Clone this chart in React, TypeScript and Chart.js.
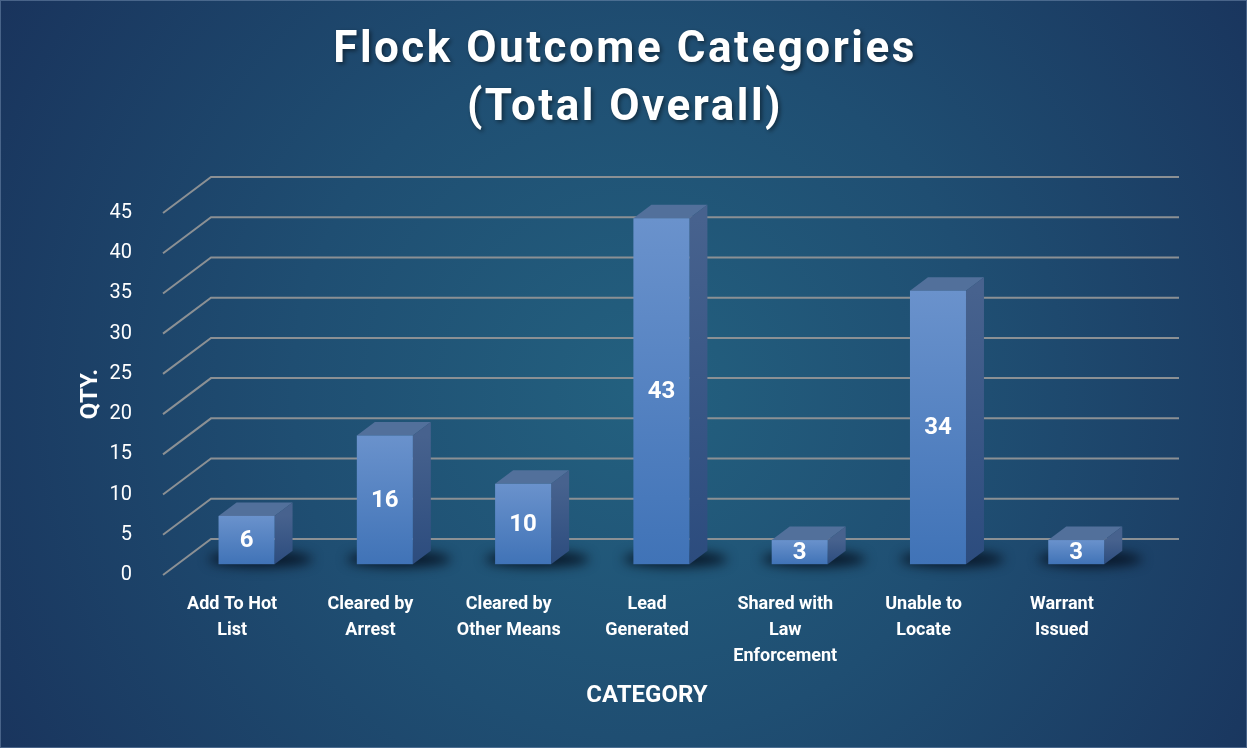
import React, { useEffect, useRef } from "react";
import { Chart, registerables } from "chart.js";

Chart.register(...registerables);

const categories: string[][] = [
  ["Add To Hot", "List"],
  ["Cleared by", "Arrest"],
  ["Cleared by", "Other Means"],
  ["Lead", "Generated"],
  ["Shared with", "Law", "Enforcement"],
  ["Unable to", "Locate"],
  ["Warrant", "Issued"],
];
const quantities: number[] = [6, 16, 10, 43, 3, 34, 3];
const titleLines: string[] = ["Flock Outcome Categories", "(Total Overall)"];
const yMax = 45;
const yStep = 5;

const FONT = "Roboto, 'Liberation Sans', sans-serif";
const DEPTH_X = 48;
const DEPTH_Y = -36;
const BAR_OFF = 0.3;
const BAR_DEPTH = 0.375;

const backgroundPlugin = {
  id: "bgPlugin",
  beforeDraw(chart: any) {
    const { ctx, width, height } = chart;
    ctx.save();
    const g = ctx.createRadialGradient(640, 390, 10, 640, 390, 760);
    g.addColorStop(0, "#23607f");
    g.addColorStop(0.45, "#1f4e72");
    g.addColorStop(1, "#19335c");
    ctx.fillStyle = g;
    ctx.fillRect(0, 0, width, height);
    ctx.strokeStyle = "rgba(120,145,180,0.5)";
    ctx.lineWidth = 1;
    ctx.strokeRect(0.5, 0.5, width - 1, height - 1);
    // title
    ctx.fillStyle = "#ffffff";
    ctx.textAlign = "center";
    ctx.textBaseline = "middle";
    ctx.font = `bold 44px ${FONT}`;
    (ctx as any).letterSpacing = "2.5px";
    ctx.shadowColor = "rgba(0,0,0,0.45)";
    ctx.shadowBlur = 4;
    ctx.shadowOffsetX = 2;
    ctx.shadowOffsetY = 2;
    titleLines.forEach((t, i) => ctx.fillText(t, 625, 51 + i * 58));
    ctx.restore();
  },
  beforeDatasetsDraw(chart: any) {
    const { ctx, chartArea } = chart;
    const ys = chart.scales.y;
    ctx.save();
    ctx.strokeStyle = "#8b9094";
    ctx.lineWidth = 2;
    ys.ticks.forEach((t: any) => {
      const y = ys.getPixelForValue(t.value);
      ctx.beginPath();
      ctx.moveTo(chartArea.left, y);
      ctx.lineTo(chartArea.left + DEPTH_X, y + DEPTH_Y);
      ctx.lineTo(chartArea.right + DEPTH_X, y + DEPTH_Y);
      ctx.stroke();
    });
    ctx.restore();
  },
  afterDatasetsDraw(chart: any) {
    const { ctx } = chart;
    const meta = chart.getDatasetMeta(0);
    const ox = DEPTH_X * BAR_OFF;
    const oy = DEPTH_Y * BAR_OFF;
    const dx = DEPTH_X * BAR_DEPTH;
    const dy = DEPTH_Y * BAR_DEPTH;
    const rects = meta.data.map((el: any) => {
      const p = el.getProps(["x", "y", "base", "width"], true);
      return {
        x0: p.x - p.width / 2 + ox,
        x1: p.x + p.width / 2 + ox,
        top: p.y + oy,
        bot: p.base + oy,
      };
    });
    // shadows
    ctx.save();
    ctx.filter = "blur(6px)";
    ctx.fillStyle = "rgba(5,14,28,0.85)";
    rects.forEach((r: any) => {
      ctx.beginPath();
      ctx.ellipse((r.x0 + r.x1) / 2 + 14, r.bot - 5, (r.x1 - r.x0) / 2 + 24, 8, 0, 0, Math.PI * 2);
      ctx.fill();
    });
    ctx.restore();
    ctx.save();
    rects.forEach((r: any, i: number) => {
      // top face
      ctx.fillStyle = "#52709b";
      ctx.beginPath();
      ctx.moveTo(r.x0, r.top);
      ctx.lineTo(r.x0 + dx, r.top + dy);
      ctx.lineTo(r.x1 + dx, r.top + dy);
      ctx.lineTo(r.x1, r.top);
      ctx.closePath();
      ctx.fill();
      // side face
      const sg = ctx.createLinearGradient(0, r.top, 0, r.bot);
      sg.addColorStop(0, "#47628e");
      sg.addColorStop(1, "#2c4c7e");
      ctx.fillStyle = sg;
      ctx.beginPath();
      ctx.moveTo(r.x1, r.top);
      ctx.lineTo(r.x1 + dx, r.top + dy);
      ctx.lineTo(r.x1 + dx, r.bot + dy);
      ctx.lineTo(r.x1, r.bot);
      ctx.closePath();
      ctx.fill();
      // front face
      const fg = ctx.createLinearGradient(0, r.top, 0, r.bot);
      fg.addColorStop(0, "#6a92cc");
      fg.addColorStop(1, "#4073b7");
      ctx.fillStyle = fg;
      ctx.fillRect(r.x0, r.top, r.x1 - r.x0, r.bot - r.top);
      // label
      ctx.fillStyle = "#ffffff";
      ctx.font = `bold 24px ${FONT}`;
      ctx.textAlign = "center";
      ctx.textBaseline = "middle";
      ctx.fillText(String(quantities[i]), (r.x0 + r.x1) / 2, (r.top + r.bot) / 2 + 1);
    });
    ctx.restore();
  },
};

export default function App() {
  const ref = useRef<HTMLCanvasElement | null>(null);
  useEffect(() => {
    if (!ref.current) return;
    const chart = new Chart(ref.current, {
      type: "bar",
      data: {
        labels: categories,
        datasets: [
          {
            label: "QTY.",
            data: quantities,
            backgroundColor: "rgba(0,0,0,0)",
            borderWidth: 0,
            categoryPercentage: 1,
            barPercentage: 0.405,
          },
        ],
      },
      options: {
        responsive: false,
        animation: false,
        layout: { padding: { top: 213, right: 116, left: 0, bottom: 0 } },
        plugins: {
          legend: { display: false },
          tooltip: { enabled: false },
        },
        scales: {
          x: {
            grid: { display: false },
            border: { display: false },
            afterFit: (s: any) => {
              s.height = 173;
            },
            ticks: {
              color: "#ffffff",
              font: { family: FONT, size: 18, weight: "bold", lineHeight: 1.44 },
              padding: 9,
              maxRotation: 0,
              autoSkip: false,
            },
            title: {
              display: true,
              text: "CATEGORY",
              color: "#ffffff",
              font: { family: FONT, size: 24, weight: "bold", lineHeight: 1.2 },
              padding: { top: 0, bottom: 38 },
            },
          },
          y: {
            min: 0,
            max: yMax,
            grid: { display: false },
            border: { display: false },
            afterFit: (s: any) => {
              s.width = 163;
            },
            ticks: {
              stepSize: yStep,
              color: "#ffffff",
              font: { family: FONT, size: 20 },
              padding: 23,
            },
            title: {
              display: true,
              text: "QTY.",
              color: "#ffffff",
              font: { family: FONT, size: 24, weight: "bold", lineHeight: 1.2 },
              padding: { top: 77, bottom: 0 },
            },
          },
        },
      },
      plugins: [backgroundPlugin],
    });
    return () => chart.destroy();
  }, []);
  return (
    <div style={{ position: "absolute", left: 0, top: 0, width: 1247, height: 748 }}>
      <canvas ref={ref} width={1247} height={748} />
    </div>
  );
}
